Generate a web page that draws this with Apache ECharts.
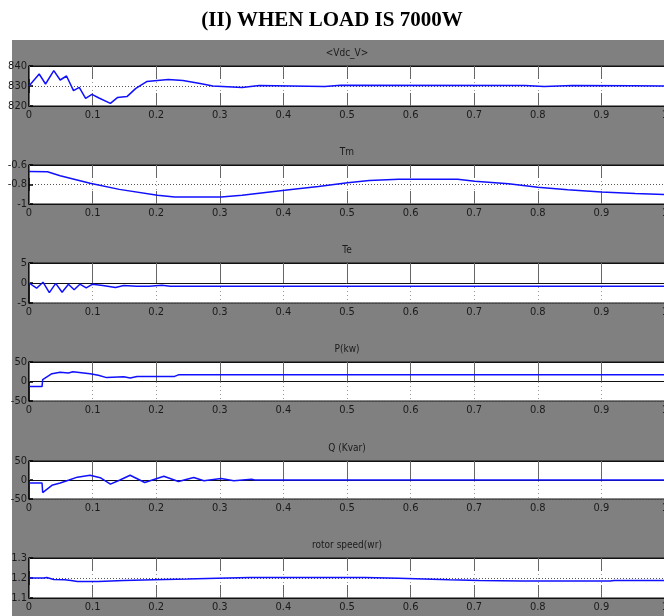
<!DOCTYPE html>
<html>
<head>
<meta charset="utf-8">
<script src="https://cdn.jsdelivr.net/npm/echarts@6/dist/echarts.min.js"></script>
<style>
html,body{margin:0;padding:0;background:#fff;}
#chart{width:664px;height:616px;}
</style>
</head>
<body>
<div id="chart"></div>
<script>
// ---- Data ----
const mainTitle = '(II) WHEN LOAD IS 7000W';
const panelTitles = ['<Vdc_V>', 'Tm', 'Te', 'P(kw)', 'Q (Kvar)', 'rotor speed(wr)'];
const xTicks = [0, 0.1, 0.2, 0.3, 0.4, 0.5, 0.6, 0.7, 0.8, 0.9, 1];

const yTicksVdc = [820, 830, 840];
const yTicksTm = [-1, -0.8, -0.6];
const yTicksTe = [-5, 0, 5];
const yTicksP = [-50, 0, 50];
const yTicksQ = [-50, 0, 50];
const yTicksWr = [1.1, 1.2, 1.3];

const tVdc = [0, 0.016, 0.026, 0.039, 0.049, 0.059, 0.070, 0.079, 0.089, 0.099, 0.110, 0.128, 0.139, 0.154, 0.168, 0.185, 0.219, 0.242, 0.269, 0.289, 0.335, 0.362, 0.465, 0.49, 0.78, 0.81, 0.854, 0.95, 1];
const vdc  = [830, 836, 831, 837.7, 833, 835, 827.7, 829.3, 823.8, 825.8, 824, 821.3, 824.2, 824.7, 828.8, 832.2, 833.3, 832.7, 831.3, 830, 829.3, 830.2, 829.8, 830.4, 830.3, 829.8, 830.3, 830.1, 830];

const tTm = [0, 0.029, 0.049, 0.096, 0.142, 0.202, 0.229, 0.302, 0.335, 0.402, 0.455, 0.501, 0.535, 0.581, 0.674, 0.701, 0.754, 0.8, 0.847, 0.9, 0.953, 1];
const tm  = [-0.667, -0.67, -0.71, -0.787, -0.85, -0.91, -0.927, -0.927, -0.91, -0.86, -0.82, -0.783, -0.76, -0.747, -0.747, -0.767, -0.793, -0.827, -0.853, -0.877, -0.893, -0.903];

const tTe = [0, 0.012, 0.022, 0.032, 0.042, 0.052, 0.062, 0.071, 0.080, 0.090, 0.100, 0.116, 0.136, 0.149, 0.169, 0.189, 0.209, 0.222, 1];
const te  = [0, -1.3, 0.2, -2.4, -0.1, -2.3, -0.3, -1.7, -0.3, -1.2, -0.3, -0.6, -1.1, -0.6, -0.8, -0.8, -0.55, -0.8, -0.8];

const tP = [0, 0.0205, 0.0215, 0.036, 0.049, 0.062, 0.069, 0.096, 0.109, 0.122, 0.149, 0.159, 0.170, 0.229, 0.235, 1];
const pkw = [-13, -13, 5, 20, 24, 22, 25, 20, 16, 10, 12, 9, 13, 13, 17, 17];

const tQ = [0, 0.0205, 0.0215, 0.036, 0.049, 0.063, 0.076, 0.096, 0.112, 0.128, 0.143, 0.159, 0.182, 0.212, 0.235, 0.259, 0.275, 0.302, 0.322, 0.350, 0.355, 1];
const qkvar = [-8, -8, -33, -14, -8, 0, 7.5, 12.5, 6, -11, 0, 12.5, -6.7, 10, -4, 6.7, -2, 4, -2, 2, 0, 0];

const tWr = [0, 0.023, 0.028, 0.039, 0.056, 0.066, 0.076, 0.109, 0.149, 0.196, 0.249, 0.295, 0.348, 0.528, 0.581, 0.621, 0.661, 0.708, 0.774, 0.914, 0.920, 1];
const wr  = [1.2, 1.2, 1.202, 1.193, 1.191, 1.187, 1.1825, 1.1825, 1.187, 1.191, 1.195, 1.199, 1.203, 1.203, 1.199, 1.195, 1.191, 1.188, 1.185, 1.185, 1.188, 1.188];

// ---- Chart build ----
const panels = [
  { t: tVdc, v: vdc, ticks: yTicksVdc },
  { t: tTm, v: tm, ticks: yTicksTm },
  { t: tTe, v: te, ticks: yTicksTe },
  { t: tP, v: pkw, ticks: yTicksP },
  { t: tQ, v: qkvar, ticks: yTicksQ },
  { t: tWr, v: wr, ticks: yTicksWr }
];
const tops = [66, 165, 263, 362, 461, 558];
const heights = [40, 39, 40, 39, 38, 40];
const LEFT = 29, WIDTH = 636;
const labelFont = '"DejaVu Sans Condensed", "Liberation Sans Narrow", sans-serif';

function fmt(v) { return String(Math.round(v * 100) / 100); }

const grids = [], xAxes = [], yAxes = [], series = [];
panels.forEach((p, i) => {
  grids.push({ left: LEFT, width: WIDTH, top: tops[i], height: heights[i], show: true,
    backgroundColor: '#ffffff', borderColor: '#111', borderWidth: 1, containLabel: false,
    outerBoundsMode: 'none' });
  xAxes.push({ type: 'value', gridIndex: i, min: xTicks[0], max: xTicks[xTicks.length - 1], interval: 0.1,
    axisLine: { show: true, lineStyle: { color: '#111', width: 1 } },
    axisTick: { show: true, inside: true, length: 13, lineStyle: { color: '#666', width: 1 } },
    axisLabel: { show: true, color: '#1a1a1a', fontSize: 11, fontFamily: labelFont, margin: 4, formatter: fmt, showMaxLabel: true, showMinLabel: true },
    splitLine: { show: true, lineStyle: { color: '#999', type: [1, 3], width: 1 } } });
  xAxes.push({ type: 'value', gridIndex: i, position: 'top', min: xTicks[0], max: xTicks[xTicks.length - 1], interval: 0.1,
    axisLine: { show: true, lineStyle: { color: '#111', width: 1 } },
    axisTick: { show: true, inside: true, length: 13, lineStyle: { color: '#666', width: 1 } },
    axisLabel: { show: false }, splitLine: { show: false } });
  const mn = p.ticks[0], mx = p.ticks[p.ticks.length - 1];
  yAxes.push({ type: 'value', gridIndex: i, min: mn, max: mx, interval: p.ticks[1] - p.ticks[0],
    axisLine: { show: true, lineStyle: { color: '#000', width: 1.5 } },
    axisTick: { show: true, inside: true, length: 4, lineStyle: { color: '#000', width: 1.5 } },
    axisLabel: { show: true, color: '#1a1a1a', fontSize: 11, fontFamily: labelFont, margin: 2, formatter: fmt },
    splitLine: { show: true, lineStyle: { color: '#555', type: [1, 2], width: 1 } } });
  series.push({ type: 'line', xAxisIndex: i * 2, yAxisIndex: i, data: p.t.map((t, k) => [t, p.v[k]]),
    showSymbol: false, symbol: 'none', lineStyle: { color: '#1010ff', width: 1.5 }, animation: false, z: 5 });
});

const graphics = [
  { type: 'rect', shape: { x: 12, y: 40, width: 664 - 12, height: 616 - 40 }, style: { fill: '#808080' }, z: -10, silent: true },
  { type: 'text', x: 332, y: 21, style: { text: mainTitle, font: 'bold 21px "Liberation Serif", "Times New Roman", serif', fill: '#000', textAlign: 'center', textVerticalAlign: 'middle' }, z: 10 }
];
panelTitles.forEach((s, i) => {
  graphics.push({ type: 'text', x: 347, y: tops[i] - 13, style: { text: s, font: '10px ' + labelFont, fill: '#1a1a1a', textAlign: 'center', textVerticalAlign: 'middle' }, z: 10 });
});

const chart = echarts.init(document.getElementById('chart'), null, { renderer: 'canvas' });
chart.setOption({
  animation: false,
  backgroundColor: '#ffffff',
  grid: grids,
  xAxis: xAxes,
  yAxis: yAxes,
  series: series,
  graphic: { elements: graphics }
});
</script>
</body>
</html>
